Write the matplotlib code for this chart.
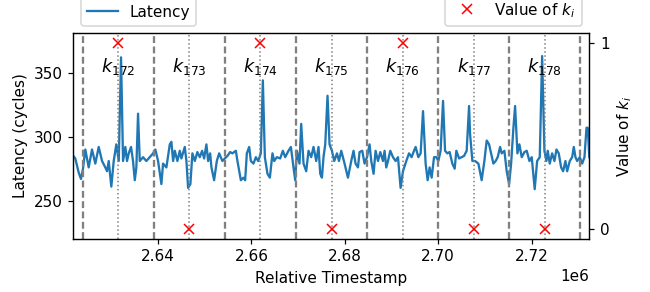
import matplotlib
matplotlib.use("Agg")
import matplotlib.pyplot as plt
import numpy as np

# Relative timestamps (in thousands) and latency (cycles)
ts_k = [2621.85, 2622.27, 2623.00, 2623.49, 2623.92, 2624.42, 2625.14, 2625.85, 2626.56, 2627.29,
        2628.00, 2628.70, 2629.07, 2629.43, 2629.99, 2630.50, 2631.06, 2631.58, 2632.07, 2632.50,
        2632.99, 2633.35, 2633.72, 2634.21, 2634.64, 2635.01, 2635.35, 2635.71, 2636.08, 2636.78,
        2637.49, 2638.22, 2638.93, 2639.42, 2640.00, 2640.71, 2641.07, 2641.78, 2642.51, 2642.85,
        2643.22, 2643.58, 2644.14, 2644.65, 2644.99, 2645.72, 2646.07, 2646.43, 2646.92, 2647.35,
        2647.87, 2648.42, 2648.94, 2649.43, 2649.86, 2650.35, 2650.72, 2651.15, 2651.43, 2652.00,
        2652.58, 2653.08, 2653.78, 2654.30, 2654.86, 2655.43, 2655.93, 2656.66, 2657.00, 2657.73,
        2658.29, 2658.65, 2659.01, 2659.51, 2659.87, 2660.43, 2660.94, 2661.44, 2662.01, 2662.44,
        2662.87, 2663.43, 2663.94, 2664.50, 2664.87, 2665.44, 2666.15, 2666.73, 2667.22, 2667.93,
        2668.45, 2669.00, 2669.37, 2669.73, 2670.29, 2670.65, 2671.15, 2671.73, 2672.22, 2672.80,
        2673.29, 2673.87, 2674.36, 2674.73, 2675.09, 2675.43, 2675.80, 2676.29, 2676.72, 2677.23,
        2677.73, 2678.31, 2678.74, 2679.23, 2679.94, 2680.66, 2681.37, 2681.86, 2682.29, 2682.81,
        2683.15, 2683.73, 2684.22, 2684.74, 2685.29, 2685.66, 2686.15, 2686.58, 2687.10, 2687.59,
        2688.17, 2688.51, 2688.87, 2689.24, 2689.73, 2690.31, 2690.87, 2691.38, 2691.94, 2692.45,
        2693.16, 2693.74, 2694.30, 2694.81, 2695.16, 2695.73, 2696.23, 2696.74, 2697.30, 2697.73,
        2698.16, 2698.59, 2699.10, 2699.59, 2700.02, 2700.51, 2701.03, 2701.46, 2701.95, 2702.44,
        2703.02, 2703.52, 2703.88, 2704.46, 2705.02, 2705.53, 2706.09, 2706.60, 2706.82, 2707.31,
        2707.89, 2708.60, 2709.30, 2709.88, 2710.38, 2710.89, 2711.32, 2711.81, 2712.30, 2712.73,
        2713.25, 2713.59, 2714.17, 2714.66, 2715.18, 2715.61, 2716.10, 2716.46, 2716.96, 2717.38,
        2717.88, 2718.46, 2718.95, 2719.53, 2720.02, 2720.66, 2721.18, 2721.74, 2722.25, 2722.74,
        2723.17, 2723.45, 2723.88, 2724.39, 2724.89, 2725.32, 2725.81, 2726.32, 2726.75, 2727.24,
        2727.61, 2728.17, 2728.68, 2729.03, 2729.39, 2729.75, 2730.31, 2730.82, 2731.32, 2731.75,
        2732.03, 2732.35]
latency = [285, 283, 272, 267, 275, 290, 276, 290, 279, 292,
           281, 276, 273, 281, 261, 281, 294, 281, 362, 281,
           292, 281, 287, 292, 281, 266, 276, 318, 281, 284,
           281, 284, 287, 290, 281, 263, 279, 276, 294, 296,
           281, 289, 281, 289, 283, 292, 281, 260, 263, 287,
           281, 288, 284, 289, 283, 294, 281, 287, 276, 266,
           281, 287, 281, 283, 285, 288, 287, 289, 281, 266,
           268, 266, 287, 292, 281, 279, 284, 281, 287, 344,
           284, 271, 268, 287, 281, 284, 283, 289, 284, 289,
           292, 276, 266, 289, 279, 310, 279, 273, 289, 284,
           292, 281, 292, 271, 268, 284, 294, 332, 294, 289,
           281, 287, 281, 289, 279, 268, 281, 289, 279, 276,
           288, 289, 279, 284, 294, 281, 271, 289, 281, 288,
           281, 289, 276, 281, 289, 284, 281, 284, 260, 273,
           281, 287, 284, 289, 292, 284, 287, 320, 279, 266,
           276, 268, 284, 284, 281, 289, 328, 289, 287, 288,
           279, 275, 289, 283, 284, 285, 289, 324, 302, 281,
           281, 279, 266, 281, 297, 294, 287, 279, 281, 284,
           292, 287, 289, 273, 263, 279, 307, 324, 287, 294,
           284, 288, 289, 281, 284, 259, 281, 284, 363, 289,
           281, 289, 279, 287, 281, 290, 287, 276, 273, 281,
           273, 281, 284, 292, 284, 281, 284, 279, 284, 307,
           307, 284]

# Window boundaries (thousands) and k values
boundaries_k = [2623.85, 2639.08, 2654.31, 2669.54, 2684.77, 2700.00, 2715.23, 2730.46]
k_index = [172, 173, 174, 175, 176, 177, 178]
k_values = [1, 0, 1, 0, 1, 0, 0]

ts = np.array(ts_k) * 1000.0
bounds = np.array(boundaries_k) * 1000.0
mids = (bounds[:-1] + bounds[1:]) / 2.0

DPI = 110
fig = plt.figure(figsize=(650 / DPI, 292 / DPI), dpi=DPI)
ax = fig.add_axes([0.1128, 0.1825, 0.7938, 0.7035])

line, = ax.plot(ts, latency, color='#1f77b4', linewidth=1.5, label='Latency')
for b in bounds:
    ax.axvline(b, color='gray', linestyle='--', linewidth=1.5, dashes=(3, 1.5))
for m in mids:
    ax.axvline(m, color='gray', linestyle=':', linewidth=1)
for m, k in zip(mids, k_index):
    ax.text(m, 355, '$k_{%d}$' % k, fontsize=11.5, ha='center', va='center')

ax.set_xlim(ts[0], ts[-1])
ax.set_ylim(220.3, 380.8)
ax.set_yticks([250, 300, 350])
ax.set_xticks([2.64e6, 2.66e6, 2.68e6, 2.70e6, 2.72e6])
ax.set_xlabel('Relative Timestamp')
ax.set_ylabel('Latency (cycles)')

ax2 = ax.twinx()
ax2.plot(mids, k_values, 'x', color='red', markersize=6.5, label='Value of $k_i$')
ax2.set_ylim(-0.05, 1.05)
ax2.set_yticks([0, 1])
ax2.set_ylabel('Value of $k_i$')

ax.legend(loc='lower left', bbox_to_anchor=(0, 1))
ax2.legend(loc='lower right', bbox_to_anchor=(1, 1))

fig.savefig('out.png', dpi=DPI)
